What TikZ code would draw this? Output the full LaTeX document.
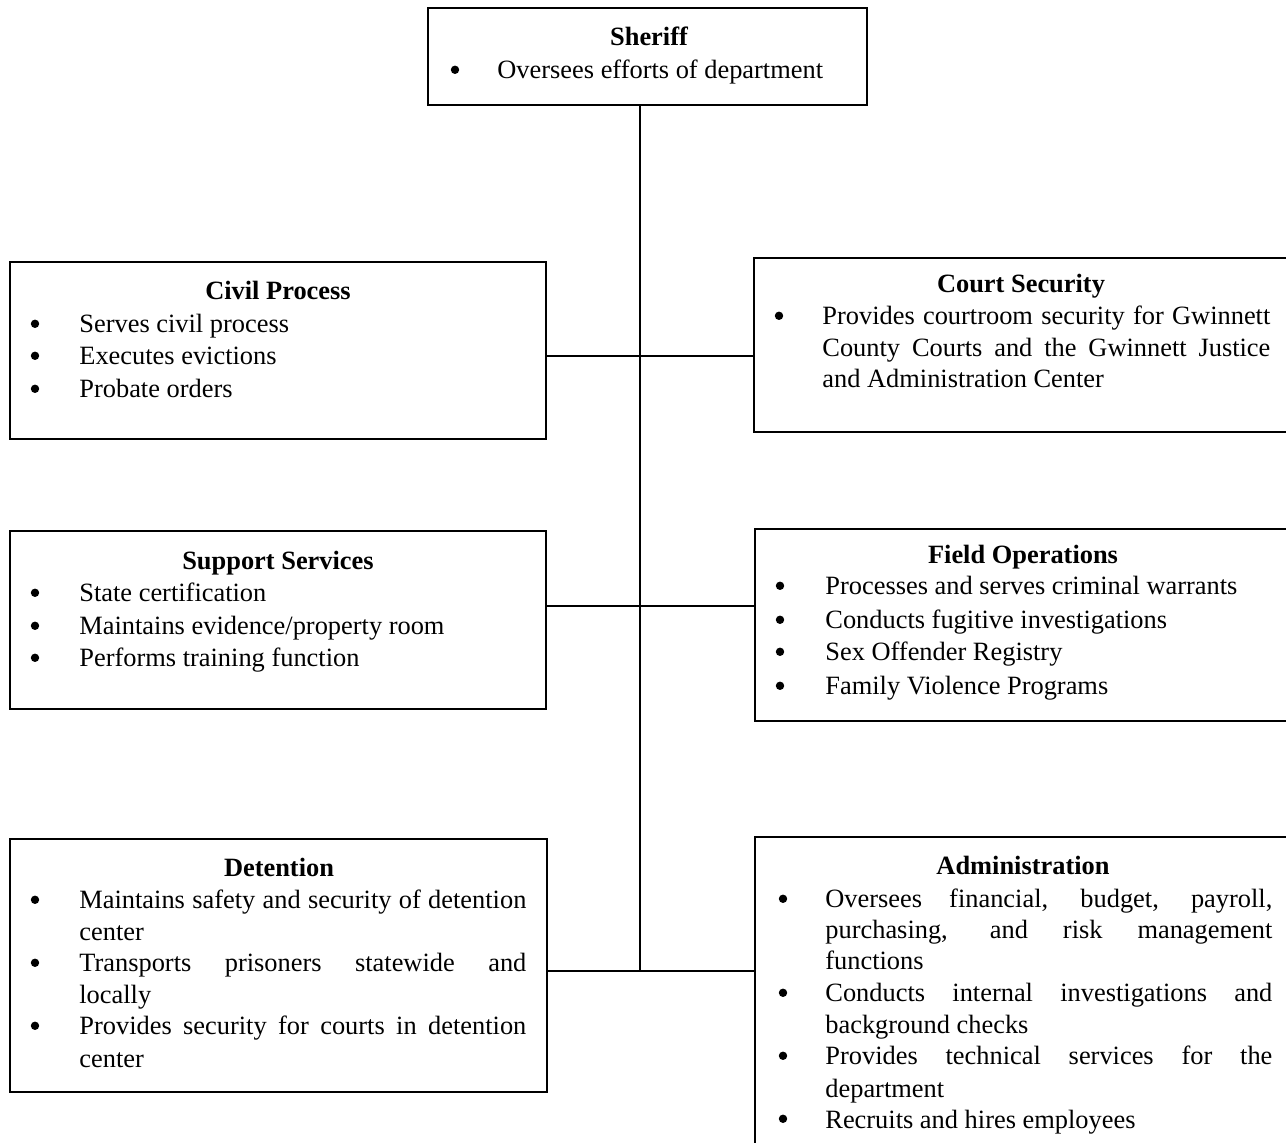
\documentclass[tikz,border=0pt]{standalone}
\usepackage{fontspec}
\setmainfont{Liberation Serif}
\begin{document}
\begin{tikzpicture}[x=0.5pt,y=-0.5pt,
  orgbox/.style={draw, line width=1pt, anchor=north west, inner sep=0pt, outer sep=0pt},
  ttl/.style={anchor=base, inner sep=0pt, font=\fontsize{13.2}{16}\selectfont\bfseries},
  txt/.style={anchor=base west, inner sep=0pt, font=\fontsize{13.2}{16}\selectfont},
  bul/.style={circle, fill=black, draw=none, inner sep=0pt, minimum size=4.2pt, yshift=4.6pt},
  link/.style={line width=1pt}]
\useasboundingbox (0,0) rectangle (1286,1143);
\fill[white] (0,0) rectangle (1286,1143);

% boxes
\node[orgbox, minimum width=219.5pt, minimum height=48.5pt] (sheriff) at (428,8) {};
\node[orgbox, minimum width=268pt, minimum height=88.5pt] (civil) at (10,262) {};
\node[orgbox, minimum width=268pt, minimum height=87pt] (court) at (754,258) {};
\node[orgbox, minimum width=268pt, minimum height=89pt] (support) at (10,531) {};
\node[orgbox, minimum width=267.5pt, minimum height=96pt] (field) at (755,529) {};
\node[orgbox, minimum width=268.5pt, minimum height=126.5pt] (detention) at (10,839) {};
\node[orgbox, minimum width=267.5pt, minimum height=156.5pt] (admin) at (755,837) {};

% connectors
\coordinate (j1) at (640,356);
\coordinate (j2) at (640,606);
\coordinate (j3) at (640,971);
\draw[link] (sheriff.south -| j1) -- (j3);
\draw[link] (civil.east |- j1) -- (court.west |- j1);
\draw[link] (support.east |- j2) -- (field.west |- j2);
\draw[link] (detention.east |- j3) -- (admin.west |- j3);

% Sheriff
\node[ttl] (sh-t) at (649,46) {Sheriff};
\node[bul] (sh-b1) at (455,79) {};
\node[txt] (sh-1) at (497,79) {Oversees efforts of department};

% Civil Process
\node[ttl] (cp-t) at (278,300) {Civil Process};
\node[bul] (cp-b1) at (35,333) {};
\node[txt] (cp-1) at (79,333) {Serves civil process};
\node[bul] (cp-b2) at (35,365) {};
\node[txt] (cp-2) at (79,365) {Executes evictions};
\node[bul] (cp-b3) at (35,398) {};
\node[txt] (cp-3) at (79,398) {Probate orders};

% Court Security
\node[ttl] (cs-t) at (1021,293) {Court Security};
\node[bul] (cs-b1) at (779,325) {};
\node[txt] (cs-1) at (822,325) {\hbox to 224pt{Provides courtroom security for Gwinnett}};
\node[txt] (cs-2) at (822,357) {\hbox to 224pt{County Courts and the Gwinnett Justice}};
\node[txt] (cs-3) at (822,388) {and Administration Center};

% Support Services
\node[ttl] (ss-t) at (278,570) {Support Services};
\node[bul] (ss-b1) at (35,602) {};
\node[txt] (ss-1) at (79,602) {State certification};
\node[bul] (ss-b2) at (35,635) {};
\node[txt] (ss-2) at (79,635) {Maintains evidence/property room};
\node[bul] (ss-b3) at (35,667) {};
\node[txt] (ss-3) at (79,667) {Performs training function};

% Field Operations
\node[ttl] (fo-t) at (1023,564) {Field Operations};
\node[bul] (fo-b1) at (780,595) {};
\node[txt] (fo-1) at (825,595) {Processes and serves criminal warrants};
\node[bul] (fo-b2) at (780,629) {};
\node[txt] (fo-2) at (825,629) {Conducts fugitive investigations};
\node[bul] (fo-b3) at (780,661) {};
\node[txt] (fo-3) at (825,661) {Sex Offender Registry};
\node[bul] (fo-b4) at (780,695) {};
\node[txt] (fo-4) at (825,695) {Family Violence Programs};

% Detention
\node[ttl] (de-t) at (279,877) {Detention};
\node[bul] (de-b1) at (35,909) {};
\node[txt] (de-1) at (79,909) {\hbox to 223.5pt{Maintains safety and security of detention}};
\node[txt] (de-2) at (79,941) {center};
\node[bul] (de-b2) at (35,972) {};
\node[txt] (de-3) at (79,972) {\hbox to 223.5pt{Transports prisoners statewide and}};
\node[txt] (de-4) at (79,1004) {locally};
\node[bul] (de-b3) at (35,1035) {};
\node[txt] (de-5) at (79,1035) {\hbox to 223.5pt{Provides security for courts in detention}};
\node[txt] (de-6) at (79,1067) {center};

% Administration
\node[ttl] (ad-t) at (1023,875) {Administration};
\node[bul] (ad-b1) at (783,908) {};
\node[txt] (ad-1) at (825,908) {\hbox to 223.5pt{Oversees financial, budget, payroll,}};
\node[txt] (ad-2) at (825,939) {\hbox to 223.5pt{purchasing, and risk management}};
\node[txt] (ad-3) at (825,970) {functions};
\node[bul] (ad-b2) at (783,1002) {};
\node[txt] (ad-4) at (825,1002) {\hbox to 223.5pt{Conducts internal investigations and}};
\node[txt] (ad-5) at (825,1034) {background checks};
\node[bul] (ad-b3) at (783,1065) {};
\node[txt] (ad-6) at (825,1065) {\hbox to 223.5pt{Provides technical services for the}};
\node[txt] (ad-7) at (825,1097) {department};
\node[bul] (ad-b4) at (783,1128) {};
\node[txt] (ad-8) at (825,1128) {Recruits and hires employees};
\end{tikzpicture}
\end{document}
